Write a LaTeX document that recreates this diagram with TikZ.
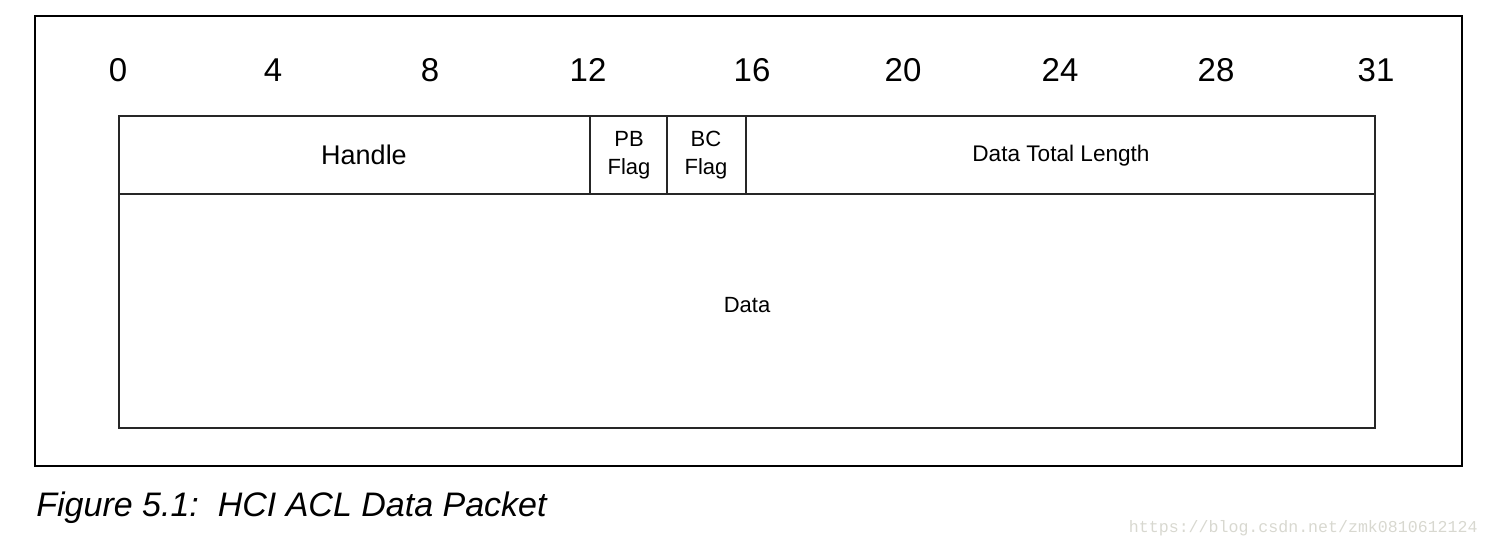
\documentclass[tikz,border=0pt]{standalone}
\usepackage{fontspec}
\setmainfont{Liberation Sans}
\newfontfamily\wmfont{Liberation Mono}
\definecolor{wmgray}{HTML}{D8D8D0}
\begin{document}
\begin{tikzpicture}[x=0.5pt,y=-0.5pt,
  frame/.style={draw=black,line width=1pt},
  cell/.style={draw=black!85,line width=0.75pt},
  bitnum/.style={font=\fontsize{16.5}{18}\selectfont,anchor=base},
  lbl/.style={align=center,font=\fontsize{11}{13.8}\selectfont},
  biglbl/.style={font=\fontsize{13.5}{16}\selectfont}]
\useasboundingbox (0,0) rectangle (1489,549);
\draw[frame] (35,16) rectangle (1462,466);
% bit numbers
\foreach \b/\x in {0/118,4/273,8/430,12/588,16/752,20/903,24/1060,28/1216,31/1376}
  \node[bitnum] (n\b) at (\x,82) {\b};
% fields
\draw[cell] (119,116) rectangle (1375,428);
\draw[cell] (119,194) -- (1375,194);
\draw[cell] (590,116) -- (590,194);
\draw[cell] (667,116) -- (667,194);
\draw[cell] (746,116) -- (746,194);
\node[biglbl] (handle) at (364,155) {Handle};
\node[lbl] (pb) at (629,155) {PB\\Flag};
\node[lbl] (bc) at (706,155) {BC\\Flag};
\node[lbl,font=\fontsize{11.3}{13.5}\selectfont] (len) at (1061,156) {Data Total Length};
\node[lbl] (data) at (747,305) {Data};
% caption
\node[anchor=base west,inner sep=0pt,font=\fontsize{17}{20}\selectfont\itshape] (cap) at (36,517) {Figure 5.1:\ \ HCI ACL Data Packet};
\node[anchor=base east,inner sep=0pt,text=wmgray,font=\wmfont\fontsize{8.3}{10}\selectfont] (wm) at (1478,533) {https://blog.csdn.net/zmk0810612124};
\end{tikzpicture}
\end{document}
